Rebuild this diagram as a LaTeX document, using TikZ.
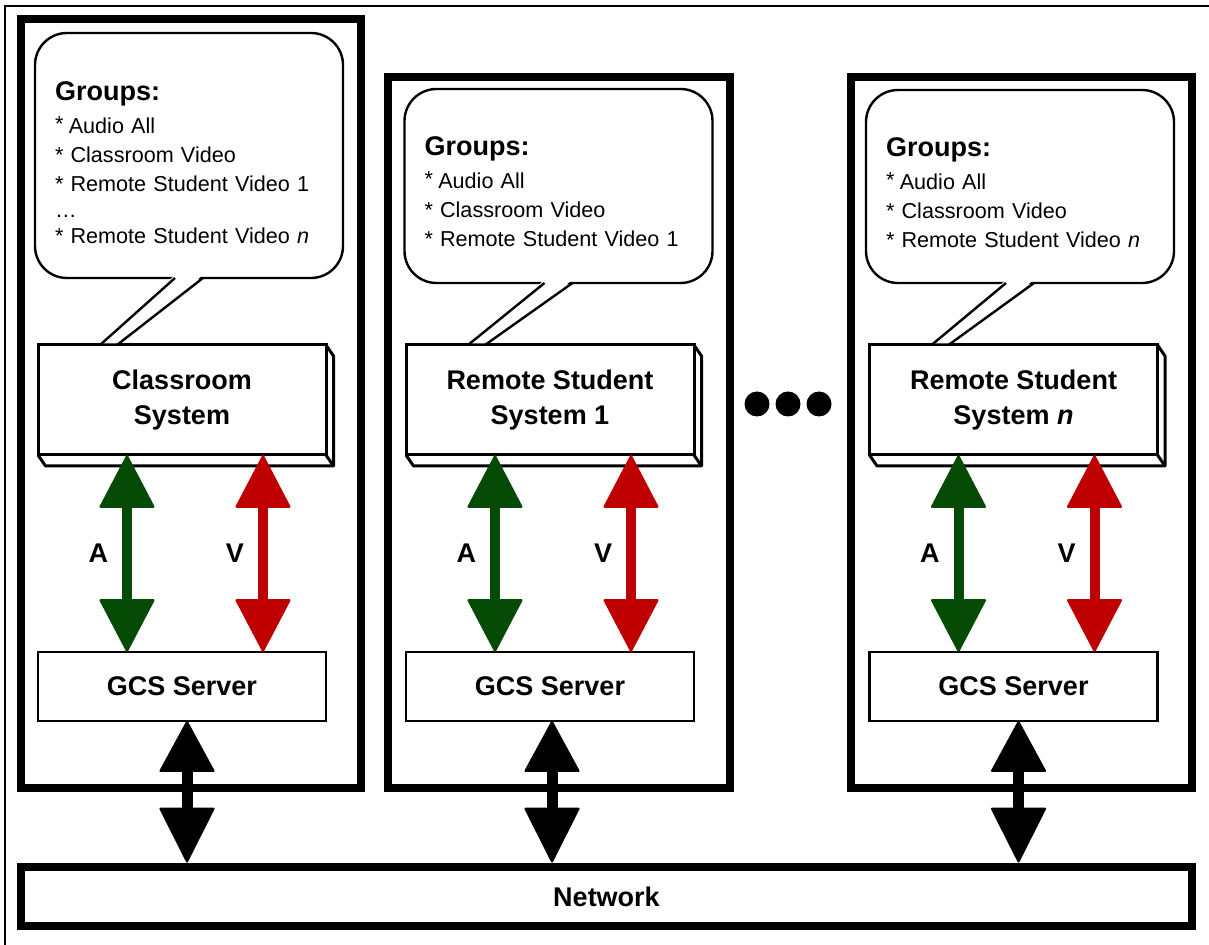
\documentclass[tikz,border=0pt]{standalone}
\usepackage{fontspec}
\setmainfont{Liberation Sans}
\usepackage{xcolor}
\usetikzlibrary{positioning, arrows.meta, calc}

\definecolor{agreen}{RGB}{5,75,5}
\definecolor{vred}{RGB}{190,0,0}

\begin{document}
\begin{tikzpicture}[
    x=0.5pt, y=-0.5pt,
    every node/.style={outer sep=0pt},
    panel/.style={rectangle, draw, line width=3.75pt},
    bubble/.style={rectangle, draw, fill=white, rounded corners=16pt, line width=1.2pt, text width=134pt, inner xsep=10pt, inner ysep=5pt, align=left, font=\fontsize{10.8}{14.5}\selectfont},
    sysbox/.style={rectangle, draw, fill=white, line width=1.5pt, minimum width=144pt, minimum height=55pt, align=center, font=\fontsize{13.5}{17.5}\selectfont\bfseries},
    srvbox/.style={rectangle, draw, fill=white, line width=1.3pt, minimum width=144pt, minimum height=34.5pt, font=\fontsize{13.5}{17}\selectfont\bfseries},
    netbox/.style={rectangle, draw, line width=4.25pt, font=\fontsize{13.5}{17}\selectfont\bfseries},
    lbl/.style={inner sep=0pt, text=black, font=\fontsize{13.5}{16}\selectfont\bfseries},
    tail/.style={line width=1.2pt},
    aarrow/.style={agreen, line width=5pt, {Triangle[width=28pt,length=27pt,round,line width=1pt]}-{Triangle[width=28pt,length=27pt,round,line width=1pt]}},
    varrow/.style={vred, line width=5pt, {Triangle[width=28pt,length=27pt,round,line width=1pt]}-{Triangle[width=28pt,length=27pt,round,line width=1pt]}},
    narrow/.style={black, line width=5.5pt, {Triangle[width=28pt,length=26pt,round,line width=1pt]}-{Triangle[width=28pt,length=28pt,round,line width=1pt]}}
    ]
\useasboundingbox (0,0) rectangle (1209,945);
\draw[line width=1pt] (5,945) -- (5,6) -- (1209,6);

% the three systems
\node[panel, minimum width=170pt, minimum height=384.5pt] (pan1) at (191,403.5) {};
\node[panel, minimum width=171pt, minimum height=355.5pt] (pan2) at (559,432.5) {};
\node[panel, minimum width=170.5pt, minimum height=355.5pt] (pan3) at (1021.5,432.5) {};

\node[bubble, minimum height=122.5pt] (bub1) at (189,155.5) {\rule{0pt}{16.5pt}{\fontsize{13.5}{16}\selectfont\bfseries Groups:}\\[2pt]
  \raisebox{1pt}{*}\hspace{0.25em}Audio All\\
  {*} Classroom Video\\
  {*} Remote Student Video 1\\[-1.5pt]
  …\\[-1.5pt]
  {*} Remote Student Video \textit{n}};
\node[bubble, minimum height=97pt] (bub2) at (558.5,186) {\rule{0pt}{15.5pt}{\fontsize{13.5}{16}\selectfont\bfseries Groups:}\\[2pt]
  \raisebox{1pt}{*}\hspace{0.25em}Audio All\\
  {*} Classroom Video\\
  {*} Remote Student Video 1};
\node[bubble, minimum height=96.5pt] (bub3) at (1020,186.5) {\rule{0pt}{15.5pt}{\fontsize{13.5}{16}\selectfont\bfseries Groups:}\\[2pt]
  \raisebox{1pt}{*}\hspace{0.25em}Audio All\\
  {*} Classroom Video\\
  {*} Remote Student Video \textit{n}};

\node[sysbox] (sys1) at (182,400) {Classroom\\System};
\node[sysbox] (sys2) at (550,400) {Remote Student\\System 1};
\node[sysbox] (sys3) at (1013.5,400) {Remote Student\\System \textit{n}};

\foreach \i in {1,2,3}{
  \fill[white] ($(bub\i.south)+(-14,-3)$) -- ($(sys\i.north west)+(62,-1.5)$) -- ($(sys\i.north west)+(79,-1.5)$) -- ($(bub\i.south)+(14,-3)$) -- cycle;
  \draw[tail] ($(bub\i.south)+(-14,0)$) -- ($(sys\i.north west)+(62,0)$);
  \draw[tail] ($(bub\i.south)+(14,0)$) -- ($(sys\i.north west)+(79,0)$);
  \draw[line width=1.5pt, line join=round] (sys\i.south west) -- ++(3.75pt,-5.5pt) -| ([shift={(3.75pt,-5.5pt)}]sys\i.north east) -- (sys\i.north east);
  \draw[line width=1.5pt] (sys\i.south east) -- ++(3.75pt,-5.5pt);
}

\node[srvbox, below=98.5pt of sys1] (srv1) {GCS Server};
\node[srvbox, below=98.5pt of sys2] (srv2) {GCS Server};
\node[srvbox, below=98.5pt of sys3] (srv3) {GCS Server};

\node[netbox, minimum width=585.5pt, minimum height=29.5pt] (net) at (606.5,896.5) {Network};

\foreach \x in {757,788,819} \fill (\x,404) circle[radius=6.25pt];

% audio and video streams
\draw[aarrow] ([xshift=44.5pt]sys1.south west) -- ([xshift=44.5pt]srv1.north west) node[lbl, midway, left=9.5pt] (la1) {A};
\draw[varrow] ([xshift=112.5pt]sys1.south west) -- ([xshift=112.5pt]srv1.north west) node[lbl, midway, left=9.5pt] (lv1) {V};
\draw[aarrow] ([xshift=44.5pt]sys2.south west) -- ([xshift=44.5pt]srv2.north west) node[lbl, midway, left=9.5pt] (la2) {A};
\draw[varrow] ([xshift=112.5pt]sys2.south west) -- ([xshift=112.5pt]srv2.north west) node[lbl, midway, left=9.5pt] (lv2) {V};
\draw[aarrow] ([xshift=44.5pt]sys3.south west) -- ([xshift=44.5pt]srv3.north west) node[lbl, midway, left=9.5pt] (la3) {A};
\draw[varrow] ([xshift=112.5pt]sys3.south west) -- ([xshift=112.5pt]srv3.north west) node[lbl, midway, left=9.5pt] (lv3) {V};

% links to the network
\draw[narrow] ($(srv1.south)+(5,0)$) -- ($(srv1.south |- net.north)+(5,-4.5)$);
\draw[narrow] ($(srv2.south)+(2,0)$) -- ($(srv2.south |- net.north)+(2,-4.5)$);
\draw[narrow] ($(srv3.south)+(5,0)$) -- ($(srv3.south |- net.north)+(5,-4.5)$);
\end{tikzpicture}
\end{document}
